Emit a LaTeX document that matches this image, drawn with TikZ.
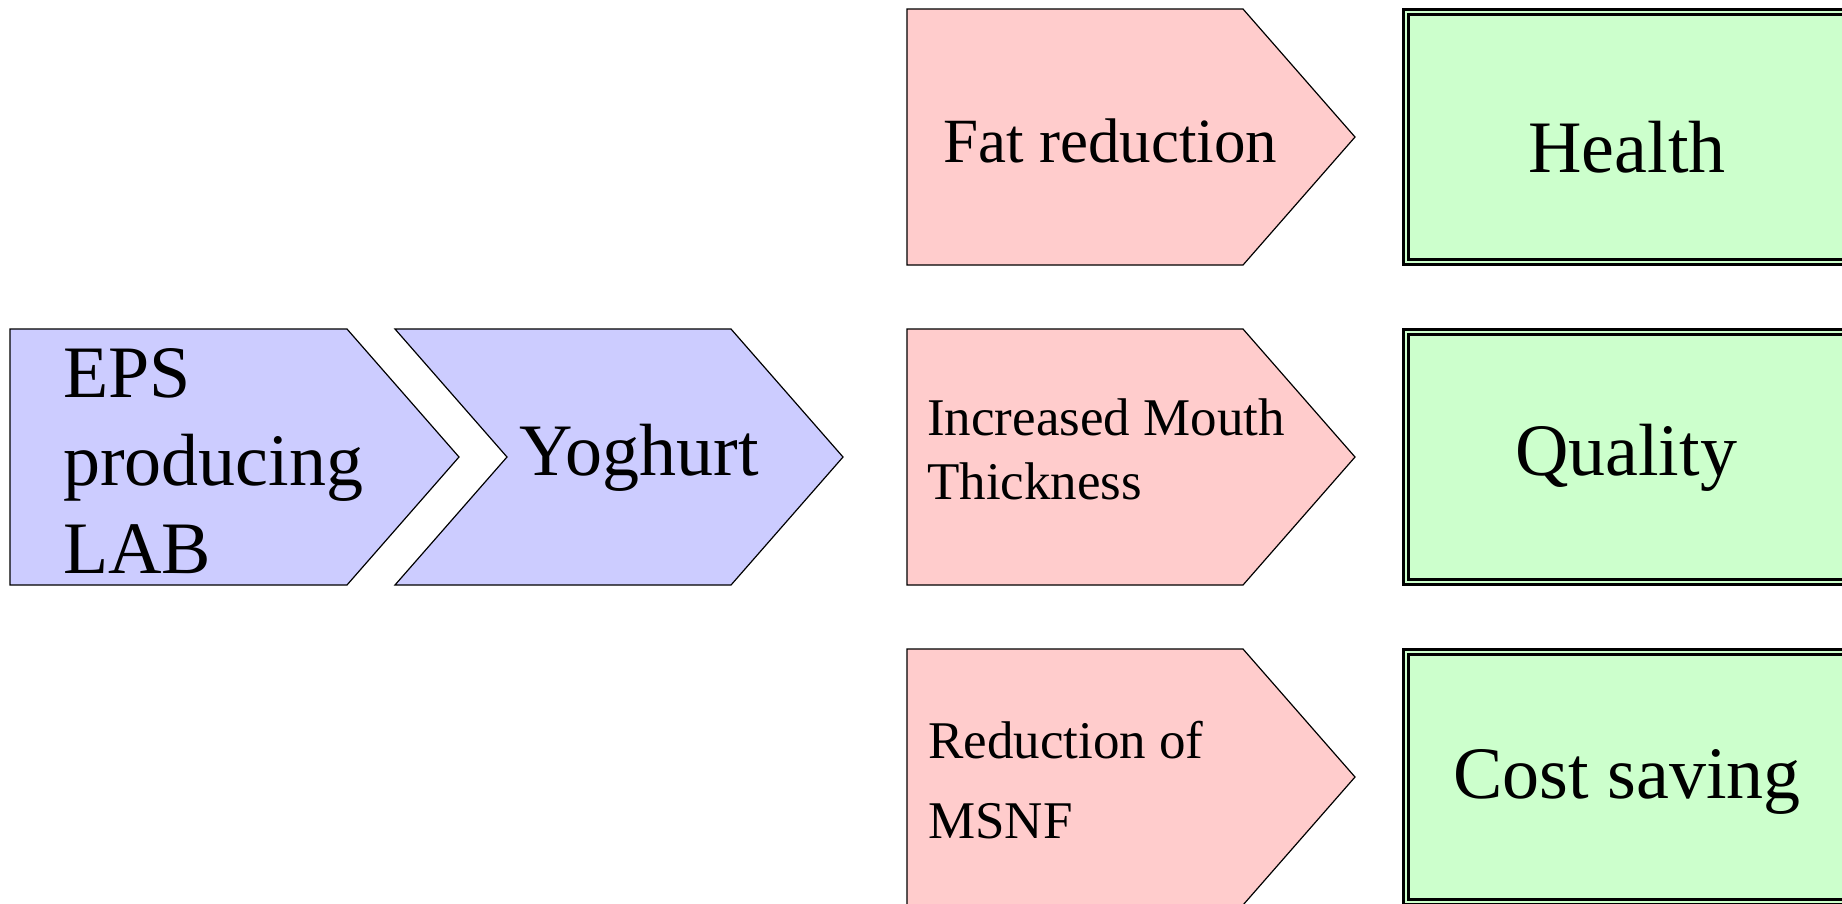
\documentclass[tikz,border=0pt]{standalone}
\usepackage{fontspec}
\setmainfont{Liberation Serif}
\definecolor{lavender}{HTML}{CCCCFF}
\definecolor{blush}{HTML}{FFCCCC}
\definecolor{mint}{HTML}{CCFFCC}
\tikzset{
  chevron/.style={draw=black, fill=lavender, line width=1.2},
  effect/.style={draw=black, fill=blush, line width=1.2},
  benefit/.style={draw=black, fill=mint, double=mint, double distance=2.5, line width=2.5},
  bigtext/.style={inner sep=0, font=\fontsize{74}{88}\selectfont},
  midtext/.style={inner sep=0, font=\fontsize{63}{76}\selectfont},
  smalltext/.style={inner sep=0, align=left, font=\fontsize{53}{64}\selectfont}
}
\begin{document}
\begin{tikzpicture}[x=1pt, y=-1pt]
\useasboundingbox (0,0) rectangle (1842,903);
\clip (0,0) rectangle (1842,903);

\def \h {256}   % height of one row
\def \tip {112} % length of the arrow point

% EPS -> yoghurt
\draw[chevron] (10,329) -- (347,329) -- ++(\tip,\h/2) -- (347,585) -- (10,585) -- cycle;
\draw[chevron] (395,329) -- (731,329) -- ++(\tip,\h/2) -- (731,585) -- (395,585) -- ++(\tip,-\h/2) -- cycle;
\node[bigtext, align=left, anchor=west] (eps) at (63,461) {EPS\\producing\\LAB};
\node[bigtext, anchor=base] (yoghurt) at (639,475) {Yoghurt};

% effects and benefits
\foreach \y in {9,329,649}
{
  \draw[effect] (907,\y) -- ++(336,0) -- ++(\tip,\h/2) -- ++(-\tip,\h/2) -- ++(-336,0) -- cycle;
  \draw[benefit] (1406,\y+3) rectangle (1850,\y+253);
}

\node[midtext, anchor=base west] (fat) at (943,162) {Fat reduction};
\node[smalltext, anchor=west] (mouth) at (927,449) {Increased Mouth\\Thickness};
\node[smalltext, font=\fontsize{53}{80}\selectfont, anchor=west] (msnf) at (928,780) {Reduction of\\MSNF};

\node[bigtext, anchor=base] (health) at (1627,172) {Health};
\node[bigtext, anchor=base] (quality) at (1626,475) {Quality};
\node[bigtext, anchor=base] (cost) at (1627,798) {Cost saving};
\end{tikzpicture}
\end{document}
